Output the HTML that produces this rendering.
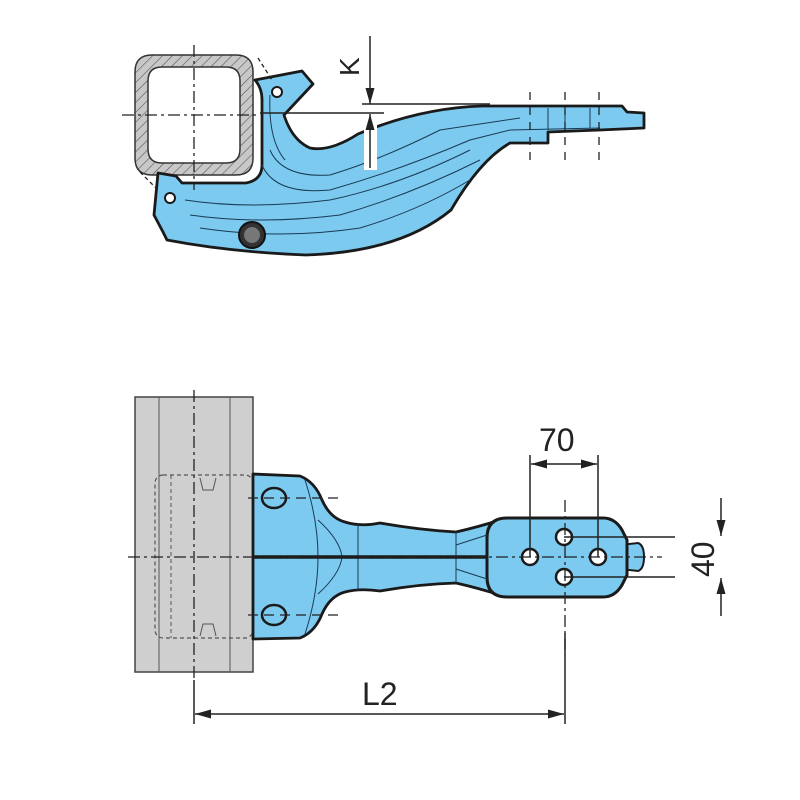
<!DOCTYPE html>
<html><head><meta charset="utf-8"><style>
html,body{margin:0;padding:0;background:#fff}
svg{display:block}
text{font-family:"Liberation Sans",sans-serif;fill:#222}
</style></head><body>
<svg width="800" height="800" viewBox="0 0 800 800" xmlns="http://www.w3.org/2000/svg">
<defs>
<pattern id="hatch" width="7" height="7" patternUnits="userSpaceOnUse" patternTransform="rotate(45)">
<rect width="7" height="7" fill="#c8c8c8"/><line x1="0" y1="0" x2="0" y2="7" stroke="#555" stroke-width="1.2"/>
</pattern>
<marker id="ah" viewBox="0 0 16 10" refX="16" refY="5" markerWidth="16" markerHeight="10" orient="auto-start-reverse" markerUnits="userSpaceOnUse"><path d="M0,0.5 L16,5 L0,9.5 z" fill="#222"/></marker>
</defs>

<!-- ===== TOP VIEW ===== -->
<path fill-rule="evenodd" fill="url(#hatch)" stroke="#333" stroke-width="1.5"
d="M152,55 H236 Q253,55 253,72 V158 Q253,175 236,175 H152 Q135,175 135,158 V72 Q135,55 152,55 Z
M162,67 H226 Q240,67 240,81 V149 Q240,163 226,163 H162 Q148,163 148,149 V81 Q148,67 162,67 Z"/>
<path fill="#7ccaf0" stroke="#1a1a1a" stroke-width="2.8" stroke-linejoin="round"
d="M255,80 L302,71 L313,84 L284,115 Q292,140 310,148 Q330,152 358,134 Q420,108 482,106 L622,106 L627,112 L644,113 L644,128 L600,130 L548,132 L548,143 L510,143 Q480,160 451,210 Q400,252 306,255 Q230,252 167,240 L163,232 L154,215 L158,173 L176,176 L182,183 L246,183 Q262,180 262,165 L262,100 Q262,88 255,80 Z"/>
<g fill="none" stroke="#1a3a55" stroke-width="1">
<path d="M262,165 Q275,195 330,190 Q400,170 470,140 L510,130 L600,128"/>
<path d="M270,150 Q282,178 330,175 Q380,160 440,130 L520,118"/>
<path d="M185,200 Q250,210 330,200 Q400,185 470,150"/>
<path d="M190,215 Q260,225 340,215 Q410,195 480,160"/>
<path d="M200,228 Q280,240 360,228 Q420,210 470,180"/>
<path d="M270,95 Q268,140 285,160"/>
<path d="M548,108 V130 M565,108 V130 M590,108 V128"/>
</g>
<circle cx="277" cy="92" r="5" fill="#fff" stroke="#1a1a1a" stroke-width="2"/>
<circle cx="170" cy="198" r="5" fill="#fff" stroke="#1a1a1a" stroke-width="2"/>
<circle cx="252" cy="235" r="13" fill="#333" stroke="#111" stroke-width="2"/>
<circle cx="252" cy="235" r="8" fill="#777"/>
<g stroke="#222" stroke-width="1.3" stroke-dasharray="12,4,3,4" fill="none">
<line x1="122" y1="115" x2="260" y2="115"/>
<line x1="194" y1="45" x2="194" y2="190"/>
</g>
<g stroke="#222" stroke-width="1.3" stroke-dasharray="8,7" fill="none">
<line x1="530" y1="92" x2="530" y2="162"/>
<line x1="565" y1="92" x2="565" y2="162"/>
<line x1="599" y1="92" x2="599" y2="162"/>
<line x1="258" y1="58" x2="272" y2="80" stroke-dasharray="4,3"/>
<line x1="140" y1="172" x2="158" y2="190" stroke-dasharray="4,3"/>
</g>
<line x1="260" y1="113" x2="384" y2="113" stroke="#222" stroke-width="1.5"/>
<line x1="362" y1="104" x2="490" y2="104" stroke="#222" stroke-width="1.5"/>
<rect x="364" y="114" width="13" height="56" fill="#fff"/>
<line x1="370" y1="36" x2="370" y2="104" stroke="#222" stroke-width="1.5" marker-end="url(#ah)"/>
<line x1="370" y1="168" x2="370" y2="114" stroke="#222" stroke-width="1.5" marker-end="url(#ah)"/>
<text x="0" y="0" font-size="28" transform="translate(359,76) rotate(-90)">K</text>

<!-- ===== BOTTOM VIEW ===== -->
<rect x="135" y="397" width="118" height="275" fill="#cfcfcf" stroke="#444" stroke-width="1.5"/>
<line x1="159" y1="397" x2="159" y2="672" stroke="#555" stroke-width="1"/>
<line x1="230" y1="397" x2="230" y2="672" stroke="#555" stroke-width="1"/>
<rect x="155" y="475" width="98" height="163" rx="8" fill="none" stroke="#555" stroke-width="1.2" stroke-dasharray="4,3"/>
<line x1="171" y1="475" x2="171" y2="638" stroke="#555" stroke-width="1" stroke-dasharray="4,3"/>
<path d="M200,478 l3,12 h10 l3,-12 M200,636 l3,-12 h10 l3,12" fill="none" stroke="#555" stroke-width="1"/>
<path fill="#7ccaf0" stroke="#1a1a1a" stroke-width="2.8" stroke-linejoin="round"
d="M253,474 L300,476 Q315,482 322,500 Q330,518 345,522 Q360,527 380,523 Q420,530 456,532 Q478,527 500,520 L500,595 Q478,588 456,583 Q420,584 380,591 Q360,588 345,592 Q330,596 322,614 Q315,632 300,638 L253,639 Z"/>
<path fill="#7ccaf0" stroke="#1a1a1a" stroke-width="2" d="M620,545 L638,543 Q644,545 644,557 Q644,569 638,571 L620,569 Z"/>
<path fill="#7ccaf0" stroke="#1a1a1a" stroke-width="3" d="M507,518 L603,518 Q615,518 622,530 L627,540 L627,575 L622,585 Q615,597 603,597 L507,597 Q487,597 487,577 L487,538 Q487,518 507,518 Z"/>
<g fill="none" stroke="#1a3a55" stroke-width="1">
<path d="M305,480 Q318,520 318,557 Q318,594 305,634"/>
<path d="M318,520 Q340,540 342,557 Q340,574 318,594"/>
<line x1="358" y1="523" x2="358" y2="591"/>
<line x1="456" y1="532" x2="456" y2="583"/>
<path d="M456,545 L487,535 M456,569 L487,579"/>
</g>
<line x1="253" y1="557" x2="487" y2="557" stroke="#1a1a1a" stroke-width="3.5"/>
<ellipse cx="274" cy="498" rx="12" ry="10" fill="#7ccaf0" stroke="#1a1a1a" stroke-width="2.5"/>
<ellipse cx="274" cy="615" rx="12" ry="10" fill="#7ccaf0" stroke="#1a1a1a" stroke-width="2.5"/>
<g fill="#fff" stroke="#1a1a1a" stroke-width="2.5">
<circle cx="530" cy="557" r="8"/><circle cx="598" cy="557" r="8"/>
<circle cx="564" cy="537" r="8"/><circle cx="564" cy="577" r="8"/>
</g>
<g stroke="#222" stroke-width="1.3" stroke-dasharray="12,4,3,4" fill="none">
<line x1="128" y1="557" x2="662" y2="557"/>
<line x1="194" y1="390" x2="194" y2="680"/>
<line x1="565" y1="500" x2="565" y2="655"/>
</g>
<g stroke="#222" stroke-width="1.2" stroke-dasharray="10,6" fill="none">
<line x1="248" y1="498" x2="338" y2="498"/>
<line x1="248" y1="615" x2="338" y2="615"/>
</g>
<g stroke="#222" stroke-width="1.5" fill="none">
<line x1="530" y1="455" x2="530" y2="557"/>
<line x1="598" y1="455" x2="598" y2="557"/>
<line x1="531" y1="464" x2="597" y2="464" marker-start="url(#ah)" marker-end="url(#ah)"/>
<line x1="564" y1="537" x2="675" y2="537"/>
<line x1="564" y1="577" x2="675" y2="577"/>
<line x1="721" y1="498" x2="721" y2="536" marker-end="url(#ah)"/>
<line x1="721" y1="616" x2="721" y2="578" marker-end="url(#ah)"/>
<line x1="565" y1="633" x2="565" y2="724"/>
<line x1="194" y1="680" x2="194" y2="724"/>
<line x1="195" y1="714" x2="564" y2="714" marker-start="url(#ah)" marker-end="url(#ah)"/>
</g>
<text x="539" y="451" font-size="32">70</text>
<text x="0" y="0" font-size="32" transform="translate(714,577) rotate(-90)">40</text>
<text x="362" y="705" font-size="32">L2</text>
</svg>
</body></html>
